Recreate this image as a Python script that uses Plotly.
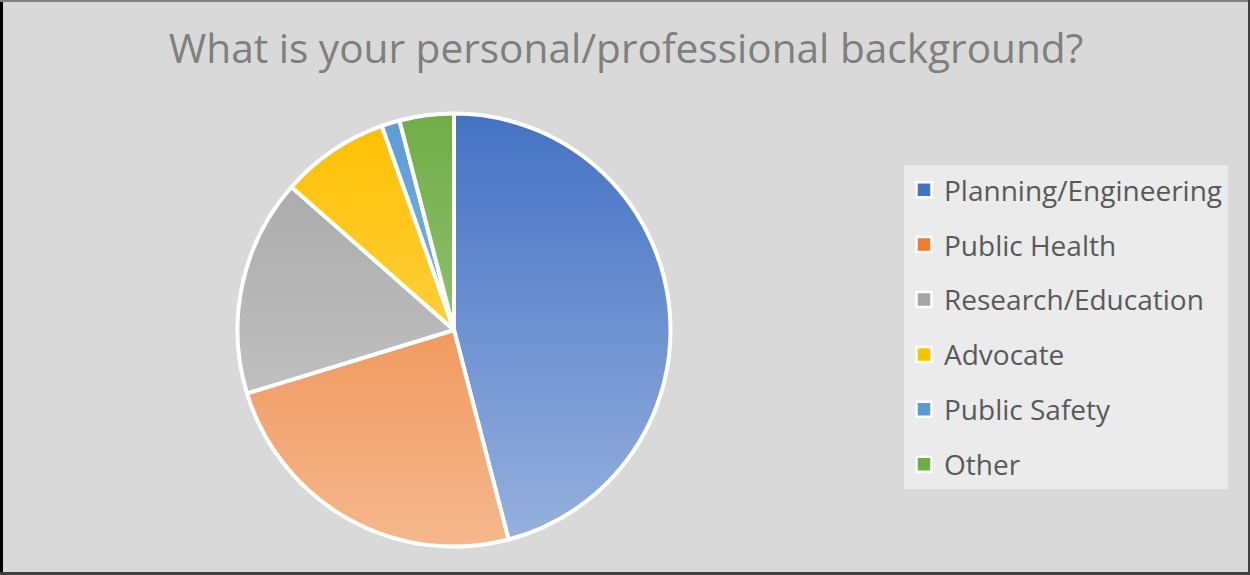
import base64
import plotly.graph_objects as go

# Survey responses by background
categories = ["Planning/Engineering", "Public Health", "Research/Education",
              "Advocate", "Public Safety", "Other"]
counts = [34, 18, 12, 6, 1, 3]
colors = ["#4472c4", "#ed7d31", "#a5a5a5", "#ffc000", "#5b9bd5", "#70ad47"]

W, H = 1250, 575
cx, cy, r = 454, 330, 216.5  # pie centre / radius in px
dom_x = [(cx - r) / W, (cx + r) / W]
dom_y = [(H - cy - r) / H, (H - cy + r) / H]

fig = go.Figure()
fig.add_trace(go.Pie(
    labels=categories, values=counts, sort=False, direction="clockwise",
    rotation=0, textinfo="none", hoverinfo="label+value+percent",
    marker=dict(colors=colors, line=dict(color="white", width=4)),
    domain=dict(x=dom_x, y=dom_y), showlegend=False,
))

# legend entries, one group each so rows can be spaced apart
for name, col in zip(categories, colors):
    fig.add_trace(go.Scatter(
        x=[None], y=[None], mode="markers", name=name, legendgroup=name,
        marker=dict(symbol="square", size=15, color=col,
                    line=dict(color="white", width=2.5)),
    ))

# soft vertical light wash over the pie
svg = (
    "<svg xmlns='http://www.w3.org/2000/svg' width='433' height='433' viewBox='0 0 433 433'>"
    "<defs><linearGradient id='g' x1='0' y1='0' x2='0' y2='1'>"
    "<stop offset='0' stop-color='white' stop-opacity='0'/>"
    "<stop offset='1' stop-color='white' stop-opacity='0.45'/>"
    "</linearGradient></defs>"
    "<circle cx='216.5' cy='216.5' r='216.5' fill='url(#g)'/></svg>"
)
src = "data:image/svg+xml;base64," + base64.b64encode(svg.encode()).decode()

border = [
    dict(x0=1.5 / W, x1=1.5 / W, y0=0, y1=1, color="#000000", w=3),
    dict(x0=0, x1=1, y0=1 - 1 / H, y1=1 - 1 / H, color="#808080", w=2),
    dict(x0=1 - 1 / W, x1=1 - 1 / W, y0=0, y1=1, color="#404040", w=2),
    dict(x0=0, x1=1, y0=1.5 / H, y1=1.5 / H, color="#404040", w=3),
]

fig.update_layout(
    width=W, height=H,
    margin=dict(l=0, r=0, t=0, b=0),
    paper_bgcolor="#d9d9d9", plot_bgcolor="#d9d9d9",
    xaxis=dict(visible=False), yaxis=dict(visible=False),
    title=dict(text="What is your personal/professional background?",
               x=626 / W, xanchor="center", y=1 - 49 / H, yanchor="middle",
               font=dict(family="Open Sans", size=40.6, color="#7f7f7f")),
    legend=dict(x=904 / W, xanchor="left", y=1 - 165 / H, yanchor="top",
                bgcolor="#ebebeb", borderwidth=0, tracegroupgap=15.5,
                font=dict(family="Open Sans", size=28, color="#595959")),
    images=[dict(source=src, xref="paper", yref="paper", x=dom_x[0], y=dom_y[1],
                 sizex=dom_x[1] - dom_x[0], sizey=dom_y[1] - dom_y[0],
                 xanchor="left", yanchor="top", sizing="stretch", layer="above")],
    shapes=[dict(type="line", xref="paper", yref="paper", x0=b["x0"], x1=b["x1"],
                 y0=b["y0"], y1=b["y1"], line=dict(color=b["color"], width=b["w"]))
            for b in border],
)

fig.write_html("out.html")
